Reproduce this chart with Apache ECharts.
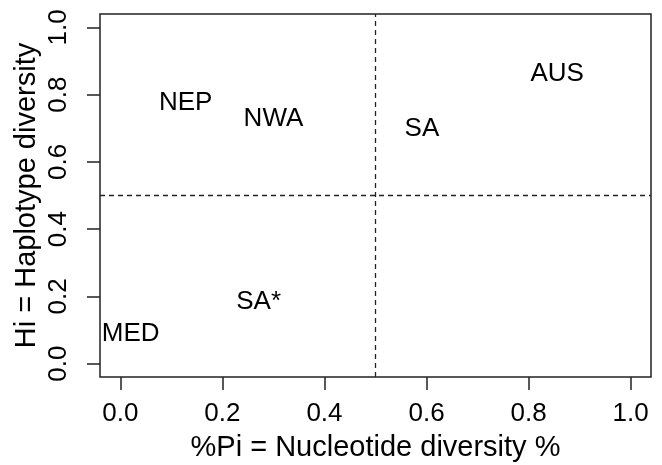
<!DOCTYPE html>
<html>
<head>
<meta charset="utf-8">
<script src="https://cdn.jsdelivr.net/npm/echarts@6/dist/echarts.min.js"></script>
<style>
  html, body { margin: 0; padding: 0; background: #fff; }
  #chart { width: 662px; height: 465px; }
</style>
</head>
<body>
<div id="chart"></div>
<script>
// population labels and their diversity values
const siteNames = ['NEP', 'NWA', 'SA', 'AUS', 'SA*', 'MED']
const nucleotideDiv = [0.128, 0.30, 0.591, 0.856, 0.271, 0.02]
const haplotypeDiv = [0.777, 0.728, 0.699, 0.861, 0.183, 0.088]
const tickValues = [0, 0.2, 0.4, 0.6, 0.8, 1.0]
const cutX = 0.5
const cutY = 0.5

const ink = '#222'
const font = '"Liberation Sans", Arial, sans-serif'

const points = siteNames.map((n, i) => ({ name: n, value: [nucleotideDiv[i], haplotypeDiv[i]] }))

const chart = echarts.init(document.getElementById('chart'))

function axisBase () {
  return {
    type: 'value',
    min: -0.04,
    max: 1.04,
    splitLine: { show: false },
    // keep the axis on the box edge, not at 0
    axisLine: { show: false, onZero: false },
    axisTick: {
      show: true,
      inside: false,
      customValues: tickValues,
      length: 13,
      lineStyle: { color: ink, width: 1.5 }
    },
    axisLabel: {
      customValues: tickValues,
      color: '#000',
      fontSize: 26,
      fontFamily: font,
      formatter: v => v.toFixed(1)
    },
    nameLocation: 'middle',
    nameMoveOverlap: false,
    nameTextStyle: { color: '#000', fontSize: 29, fontFamily: font }
  }
}

const xAxis = axisBase()
xAxis.name = '%Pi = Nucleotide diversity %'
xAxis.nameGap = 56
xAxis.axisLabel.margin = 24

const yAxis = axisBase()
yAxis.name = 'Hi = Haplotype diversity'
yAxis.nameGap = 59
yAxis.axisLabel.rotate = 90
yAxis.axisLabel.margin = 28

chart.setOption({
  animation: false,
  grid: {
    left: 100,
    right: 11,
    top: 14,
    bottom: 88,
    outerBoundsMode: 'none',
    show: true,
    borderColor: ink,
    borderWidth: 1.5,
    backgroundColor: 'transparent'
  },
  xAxis,
  yAxis,
  series: [
    {
      type: 'scatter',
      symbolSize: 0,
      itemStyle: { opacity: 1 },
      data: points,
      label: {
        show: true,
        position: 'inside',
        formatter: p => p.name,
        color: '#000',
        textBorderWidth: 0,
        fontSize: 26,
        fontFamily: font
      },
      markLine: {
        silent: true,
        symbol: 'none',
        label: { show: false },
        lineStyle: { color: ink, type: [5, 4], width: 1.3 },
        data: [{ xAxis: cutX }, { yAxis: cutY }]
      }
    }
  ]
})
</script>
</body>
</html>
